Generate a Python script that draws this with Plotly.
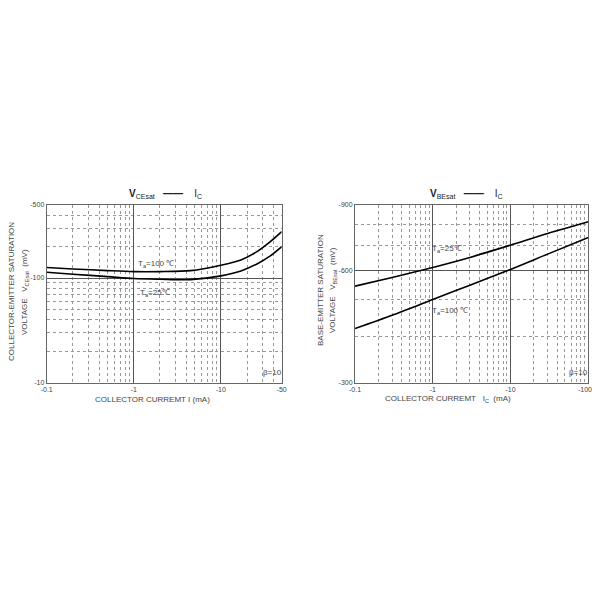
import math
import plotly.graph_objects as go

# ---- data (magnitudes; axes are labelled as negative values) ----
ic_left = [0.1, 0.2, 0.5, 1, 2, 4.5, 10, 17, 26, 37, 50]
vce_100 = [125.9, 122.2, 117.8, 115.2, 115.2, 117.7, 132.6, 149, 179, 223, 278]
vce_25 = [113.6, 108.7, 103.2, 98.8, 97.3, 96.5, 104.8, 116.9, 136.4, 162.7, 199.7]

ic_right = [0.1, 0.3, 1, 3, 10, 30, 100]
vbe_25 = [544.6, 574.7, 611.5, 650.6, 702.2, 754.7, 811.6]
vbe_100 = [419, 455, 501.5, 548, 604, 664, 736]

lx_ticks = [0.1, 1, 10, 50]
lx_text = ["-0.1", "-1", "-10", "-50"]
ly_ticks = [10, 100, 500]
ly_text = ["-10", "-100", "-500"]
rx_ticks = [0.1, 1, 10, 100]
rx_text = ["-0.1", "-1", "-10", ""]   # last label ("-100") drawn as annotation to avoid clipping
rx_last = "-100"
ry_ticks = [300, 600, 900]
ry_text = ["-300", "-600", "-900"]

lx_minor = [0.2, 0.3, 0.4, 0.5, 0.6, 0.7, 0.8, 0.9, 2, 3, 4, 5, 6, 7, 8, 9, 20, 30, 40]
ly_minor = [20, 30, 40, 50, 60, 70, 80, 90, 200, 300, 400]
rx_minor = [0.2, 0.3, 0.4, 0.5, 0.6, 0.7, 0.8, 0.9, 2, 3, 4, 5, 6, 7, 8, 9,
            20, 30, 40, 50, 60, 70, 80, 90]
ry_minor = [400, 500, 700, 800]

FONT = "Liberation Sans, Arial, sans-serif"
TXT = "#444444"
GRID = "#555555"
MINOR = "#999999"
OFF = 8      # page body margin
W = 584      # figure size so that page (with margins) is exactly 600x600

fig = go.Figure()
line = dict(color="black", width=1.6, shape="spline", smoothing=0.8)
fig.add_trace(go.Scatter(x=ic_left, y=vce_100, mode="lines", line=line, xaxis="x", yaxis="y"))
fig.add_trace(go.Scatter(x=ic_left, y=vce_25, mode="lines", line=line, xaxis="x", yaxis="y"))
fig.add_trace(go.Scatter(x=ic_right, y=vbe_25, mode="lines", line=line, xaxis="x2", yaxis="y2"))
fig.add_trace(go.Scatter(x=ic_right, y=vbe_100, mode="lines", line=line, xaxis="x2", yaxis="y2"))


def ax(rng, ticks, text, minor, domain, anchor):
    return dict(
        type="log", range=rng, domain=domain, anchor=anchor,
        tickmode="array", tickvals=ticks, ticktext=text,
        showgrid=True, gridcolor=GRID, gridwidth=1,
        minor=dict(tickvals=minor, showgrid=True, gridcolor=MINOR, griddash="dot", gridwidth=1),
        showline=True, mirror=True, linecolor="#666666", linewidth=1,
        ticks="", zeroline=False, automargin=False,
        tickfont=dict(family=FONT, size=7, color=TXT),
    )


def dx(a, b):
    return [(a - OFF) / W, (b - OFF) / W]


def dy(top, bottom):
    return [1 - (bottom - OFF) / W, 1 - (top - OFF) / W]


fig.update_layout(
    width=W, height=W, showlegend=False,
    margin=dict(l=0, r=0, t=0, b=0),
    paper_bgcolor="white", plot_bgcolor="white",
    xaxis=ax([math.log10(0.1), math.log10(50)], lx_ticks, lx_text, lx_minor, dx(46.7, 281.7), "y"),
    yaxis=ax([1, math.log10(500)], ly_ticks, ly_text, ly_minor, dy(205, 382.5), "x"),
    xaxis2=ax([-1, 2], rx_ticks, rx_text, rx_minor, dx(355, 588.3), "y2"),
    yaxis2=ax([math.log10(300), math.log10(900)], ry_ticks, ry_text, ry_minor, dy(205, 382.5), "x2"),
)

anns = []


def px(text, x, y, size=8, xanchor="center", angle=0, color=TXT):
    anns.append(dict(text=text, x=(x - OFF) / W, y=1 - (y - OFF) / W,
                     xref="paper", yref="paper", showarrow=False,
                     xanchor=xanchor, yanchor="middle", textangle=angle,
                     font=dict(family=FONT, size=size, color=color)))


# titles
px("<b>V</b><sub>CEsat</sub>&nbsp;&nbsp;&nbsp;<b>——</b>&nbsp;&nbsp;&nbsp;&nbsp;I<sub>C</sub>",
   165, 194, size=10, color="#222222")
px("<b>V</b><sub>BEsat</sub>&nbsp;&nbsp;&nbsp;<b>——</b>&nbsp;&nbsp;&nbsp;&nbsp;I<sub>C</sub>",
   466, 194, size=10, color="#222222")

# last x tick label of right chart
px(rx_last, 585, 389, size=7)

# x axis titles
px("COLLECTOR CURREMT I (mA)", 152, 399, size=8)
px("COLLECTOR CURREMT&nbsp;&nbsp;&nbsp;I<sub>C</sub>&nbsp;&nbsp;(mA)", 448, 399, size=8)

# y axis titles
px("COLLECTOR-EMITTER SATURATION", 12, 292, size=8, angle=-90)
px("VOLTAGE&nbsp;&nbsp;&nbsp;V<sub>CEsat</sub>&nbsp;&nbsp;(mV)", 25, 292, size=8, angle=-90)
px("BASE-EMITTER SATURATION", 320, 290, size=8, angle=-90)
px("VOLTAGE&nbsp;&nbsp;&nbsp;V<sub>BEsat</sub>&nbsp;&nbsp;(mV)", 333, 290, size=8, angle=-90)

# curve labels
px("T<sub>a</sub>=100 ℃", 136, 264, size=8, xanchor="left")
px("T<sub>a</sub>=25℃", 138, 293, size=8, xanchor="left")
px("T<sub>a</sub>=25℃", 430, 249, size=8, xanchor="left")
px("T<sub>a</sub>=100 ℃", 430, 311, size=8, xanchor="left")
px("β=10", 261, 372, size=8, xanchor="left")
px("β=10", 567, 372, size=8, xanchor="left")

fig.update_layout(annotations=anns)
fig.write_html("out.html")
